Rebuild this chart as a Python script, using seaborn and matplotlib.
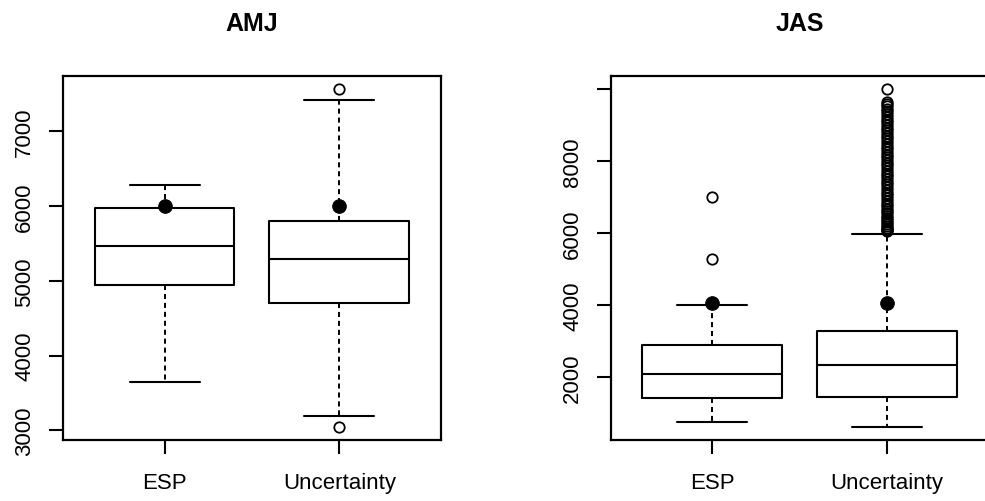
import matplotlib
matplotlib.use("Agg")
import matplotlib.pyplot as plt
import seaborn as sns
import pandas as pd

"""Data read off the reference (two seasons, two forecast types)"""
groups = ['ESP', 'Uncertainty']
seasons = ['AMJ', 'JAS']

# box summaries: lower whisker, Q1, median, Q3, upper whisker
amj_whislo = [3650, 3190]
amj_q1     = [4950, 4707]
amj_med    = [5465, 5293]
amj_q3     = [5970, 5800]
amj_whishi = [6280, 7415]
amj_fliers = [[], [7560, 3053]]
amj_obs    = [6000, 6000]

jas_whislo = [750, 620]
jas_q1     = [1417, 1453]
jas_med    = [2083, 2333]
jas_q3     = [2889, 3278]
jas_whishi = [4000, 5972]
jas_fliers = [
    [5280, 7000],
    [6050, 6080, 6120, 6150, 6200, 6250, 6300, 6350, 6420, 6480, 6550, 6600,
     6680, 6750, 6820, 6900, 6980, 7050, 7120, 7200, 7280, 7350, 7430, 7500,
     7580, 7650, 7720, 7800, 7880, 7950, 8030, 8100, 8180, 8250, 8330, 8400,
     8480, 8550, 8630, 8700, 8780, 8850, 8920, 9000, 9080, 9150, 9230, 9300,
     9380, 9450, 9520, 9580, 9640, 9990],
]
jas_obs    = [4050, 4050]

amj_ticks = [3000, 4000, 5000, 6000, 7000]
amj_labels = ['3000', '4000', '5000', '6000', '7000']
jas_ticks = [2000, 4000, 6000, 8000, 10000]
jas_labels = ['2000', '4000', '6000', '8000', '']

sns.set_style('white')
plt.rcParams['font.family'] = ['Liberation Sans', 'DejaVu Sans']
plt.rcParams['text.color'] = 'black'

fig = plt.figure(figsize=(9.85, 5.02), dpi=100)
ax1 = fig.add_axes([63 / 985, 61 / 502, 378 / 985, 364 / 502])
ax2 = fig.add_axes([611 / 985, 61 / 502, 377 / 985, 364 / 502])


def draw_panel(ax, title, whislo, q1, med, q3, whishi, fliers, obs, ticks, labels):
    stats = []
    for i, g in enumerate(groups):
        stats.append(dict(label=g, whislo=whislo[i], q1=q1[i], med=med[i],
                          q3=q3[i], whishi=whishi[i], fliers=fliers[i]))
    ax.bxp(stats, positions=[1, 2], widths=0.8, capwidths=0.4,
           boxprops=dict(color='black', lw=1.5),
           medianprops=dict(color='black', lw=1.5),
           whiskerprops=dict(color='black', lw=1.4, linestyle=(0, (2.6, 2.0))),
           capprops=dict(color='black', lw=1.5),
           flierprops=dict(marker='o', markerfacecolor='none', markeredgecolor='black',
                           markersize=7.5, markeredgewidth=1.3))
    obs_df = pd.DataFrame({'pos': [1, 2], 'value': obs})
    sns.scatterplot(data=obs_df, x='pos', y='value', ax=ax, color='black',
                    s=95, edgecolor='black', zorder=5, legend=False)

    allv = whislo + whishi + [v for f in fliers for v in f]
    lo, hi = min(allv), max(allv)
    pad = 0.04 * (hi - lo)
    ax.set_ylim(lo - pad, hi + pad)
    ax.set_xlim(0.42, 2.58)
    ax.set_xticks([1, 2])
    ax.set_xticklabels(groups)
    ax.set_yticks(ticks)
    ax.set_yticklabels(labels, rotation=90, va='center')
    ax.set_xlabel('')
    ax.set_ylabel('')
    ax.tick_params(axis='both', direction='out', length=10, width=1.5,
                   labelsize=16, colors='black', bottom=True, left=True)
    ax.tick_params(axis='x', pad=13)
    ax.tick_params(axis='y', pad=10)
    for s in ax.spines.values():
        s.set_visible(True)
        s.set_color('black')
        s.set_linewidth(1.6)
    ax.set_title(title, fontsize=18, fontweight='bold', color='black', pad=33)


draw_panel(ax1, seasons[0], amj_whislo, amj_q1, amj_med, amj_q3, amj_whishi,
           amj_fliers, amj_obs, amj_ticks, amj_labels)
draw_panel(ax2, seasons[1], jas_whislo, jas_q1, jas_med, jas_q3, jas_whishi,
           jas_fliers, jas_obs, jas_ticks, jas_labels)

fig.savefig('out.png', dpi=100)
